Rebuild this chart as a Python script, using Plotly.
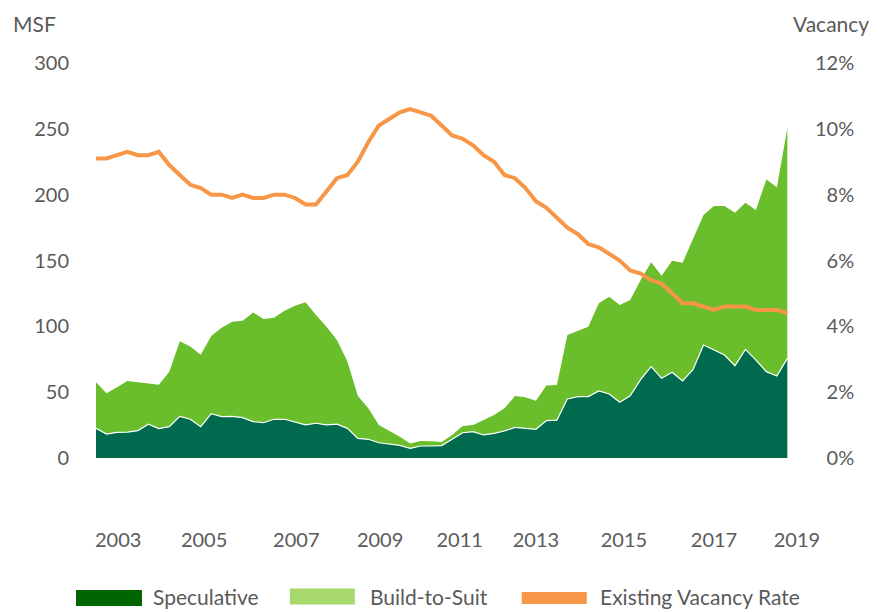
import plotly.graph_objects as go

# ---------------- data ----------------
quarters = [f"{2002 + (k + 2) // 4} Q{(k + 2) % 4 + 1}" for k in range(67)]  # 2002 Q3 .. 2019 Q1

speculative = [22.5, 18.2, 19.5, 19.7, 20.8, 25.6, 22.3, 23.8, 31.6, 29.4,
               23.8, 33.7, 31.4, 31.6, 30.6, 27.6, 26.8, 29.4, 29.4, 27.3,
               25.1, 26.4, 25.1, 25.7, 22.5, 14.9, 14.2, 11.6, 10.4, 9.6,
               7.3, 9.1, 9.1, 9.4, 14.2, 19.2, 20.0, 17.5, 18.7, 20.5,
               23.3, 22.5, 21.8, 28.4, 28.7, 44.8, 46.6, 46.6, 50.9, 48.6,
               42.3, 47.3, 59.7, 69.4, 60.5, 65.1, 58.5, 67.3, 85.8, 82.0,
               78.2, 70.1, 82.5, 74.4, 65.6, 62.3, 75.7]

build_to_suit = [35.0, 30.9, 34.2, 38.8, 36.7, 31.1, 33.4, 41.8, 57.0, 55.2,
                 54.7, 59.0, 67.6, 71.9, 73.7, 83.0, 78.8, 77.2, 82.5, 88.4,
                 93.1, 82.2, 74.6, 63.9, 50.7, 32.2, 23.5, 13.5, 10.4, 6.6,
                 3.8, 3.8, 3.6, 2.8, 3.3, 5.1, 5.1, 11.4, 14.0, 17.2,
                 23.8, 23.6, 21.7, 26.6, 26.7, 48.6, 49.9, 53.1, 66.6, 73.9,
                 73.9, 72.7, 75.5, 79.2, 78.0, 84.8, 89.8, 98.8, 98.8, 109.4,
                 113.2, 116.2, 111.4, 114.0, 146.0, 143.3, 174.7]

vacancy_rate = [9.1, 9.1, 9.2, 9.3, 9.2, 9.2, 9.3, 8.9, 8.6, 8.3,
                8.2, 8.0, 8.0, 7.9, 8.0, 7.9, 7.9, 8.0, 8.0, 7.9,
                7.7, 7.7, 8.1, 8.5, 8.6, 9.0, 9.6, 10.1, 10.3, 10.5,
                10.6, 10.5, 10.4, 10.1, 9.8, 9.7, 9.5, 9.2, 9.0, 8.6,
                8.5, 8.2, 7.8, 7.6, 7.3, 7.0, 6.8, 6.5, 6.4, 6.2,
                6.0, 5.7, 5.6, 5.4, 5.3, 5.0, 4.7, 4.7, 4.6, 4.5,
                4.6, 4.6, 4.6, 4.5, 4.5, 4.5, 4.4]

year_labels = ["2003", "2005", "2007", "2009", "2011", "2013", "2015", "2017", "2019"]
year_label_pos = [2003.03, 2005.08, 2007.28, 2009.28, 2011.18, 2013.0, 2015.1, 2017.25, 2019.23]

msf_ticks = [0, 50, 100, 150, 200, 250, 300]
vac_ticks = [0, 2, 4, 6, 8, 10, 12]
vac_ticktext = ["\u20070%", "\u20072%", "\u20074%", "\u20076%", "\u20078%", "10%", "12%"]

# --------------- styling ----------------
OFF = 8                      # page body margin of the html page
W, H = 885 - OFF, 612 - OFF
PL, PR, PT, PB = 96, 802.4, 63, 458   # plot area in screenshot pixels
ML, MT = PL - OFF, PT - OFF
MR = W - (PR - OFF)
MB = H - (PB - OFF)
FONT = "Lato"
GREY = "#5a5a5a"
DARK = "#006A4E"
LIGHT = "#6ABD2B"
ORANGE = "#F79646"

x = [int(q[:4]) + (int(q[-1]) - 1) / 4 for q in quarters]

fig = go.Figure()
fig.add_trace(go.Scatter(x=x, y=speculative, stackgroup="one", mode="lines",
                         line=dict(width=0, color=DARK), fillcolor=DARK,
                         name="Speculative", showlegend=False))
fig.add_trace(go.Scatter(x=x, y=build_to_suit, stackgroup="one", mode="lines",
                         line=dict(width=0, color=LIGHT), fillcolor=LIGHT,
                         name="Build-to-Suit", showlegend=False))
fig.add_trace(go.Scatter(x=x, y=speculative, mode="lines",
                         line=dict(width=1.2, color="white"),
                         hoverinfo="skip", showlegend=False))
fig.add_trace(go.Scatter(x=x, y=vacancy_rate, yaxis="y2", mode="lines",
                         line=dict(width=4, color=ORANGE),
                         name="Existing Vacancy Rate", showlegend=False))

pw = W - ML - MR
ph = H - MT - MB

fig.update_layout(
    width=W, height=H,
    margin=dict(l=ML, r=MR, t=MT, b=MB, pad=0),
    paper_bgcolor="white", plot_bgcolor="white",
    font=dict(family=FONT, size=20, color=GREY),
    xaxis=dict(range=[2002.5, 2019.35],
               tickvals=year_label_pos, ticktext=year_labels,
               showgrid=False, zeroline=False, showline=False, ticks="",
               ticklabelstandoff=68, tickfont=dict(size=20, color=GREY)),
    yaxis=dict(range=[0, 300], tickvals=msf_ticks, showgrid=False, zeroline=False,
               showline=False, ticks="", ticklabelstandoff=26,
               tickfont=dict(size=20, color=GREY)),
    yaxis2=dict(range=[0, 12], tickvals=vac_ticks, ticktext=vac_ticktext,
                overlaying="y", side="right", anchor="x",
                showgrid=False, zeroline=False, ticklabelstandoff=12,
                showline=False, ticks="", tickfont=dict(size=20, color=GREY)),
    showlegend=False,
)


def px2x(px):
    return (px - OFF - ML) / pw


def px2y(py):
    return (H - MB - (py - OFF)) / ph


# axis titles
fig.add_annotation(text="MSF", xref="paper", yref="paper", x=px2x(11), y=px2y(9),
                   xanchor="left", yanchor="top", showarrow=False,
                   font=dict(size=21, color=GREY, family=FONT))
fig.add_annotation(text="Vacancy", xref="paper", yref="paper", x=px2x(871), y=px2y(9),
                   xanchor="right", yanchor="top", showarrow=False,
                   font=dict(size=21, color=GREY, family=FONT))

# custom legend
legend_items = [
    ("Speculative", "#006400", 76, 142, 590, 606, 151),
    ("Build-to-Suit", "#A6D86B", 290, 355, 588.5, 604.5, 368),
    ("Existing Vacancy Rate", "#F79646", 522, 587, 592, 604, 598),
]
for label, col, x0, x1, y0, y1, tx in legend_items:
    fig.add_shape(type="rect", xref="paper", yref="paper",
                  x0=px2x(x0), x1=px2x(x1), y0=px2y(y1), y1=px2y(y0),
                  fillcolor=col, line=dict(width=0))
    fig.add_annotation(text=label, xref="paper", yref="paper", x=px2x(tx), y=px2y(611),
                       xanchor="left", yanchor="bottom", showarrow=False,
                       font=dict(size=21, color=GREY, family=FONT))

fig.write_html("out.html")
